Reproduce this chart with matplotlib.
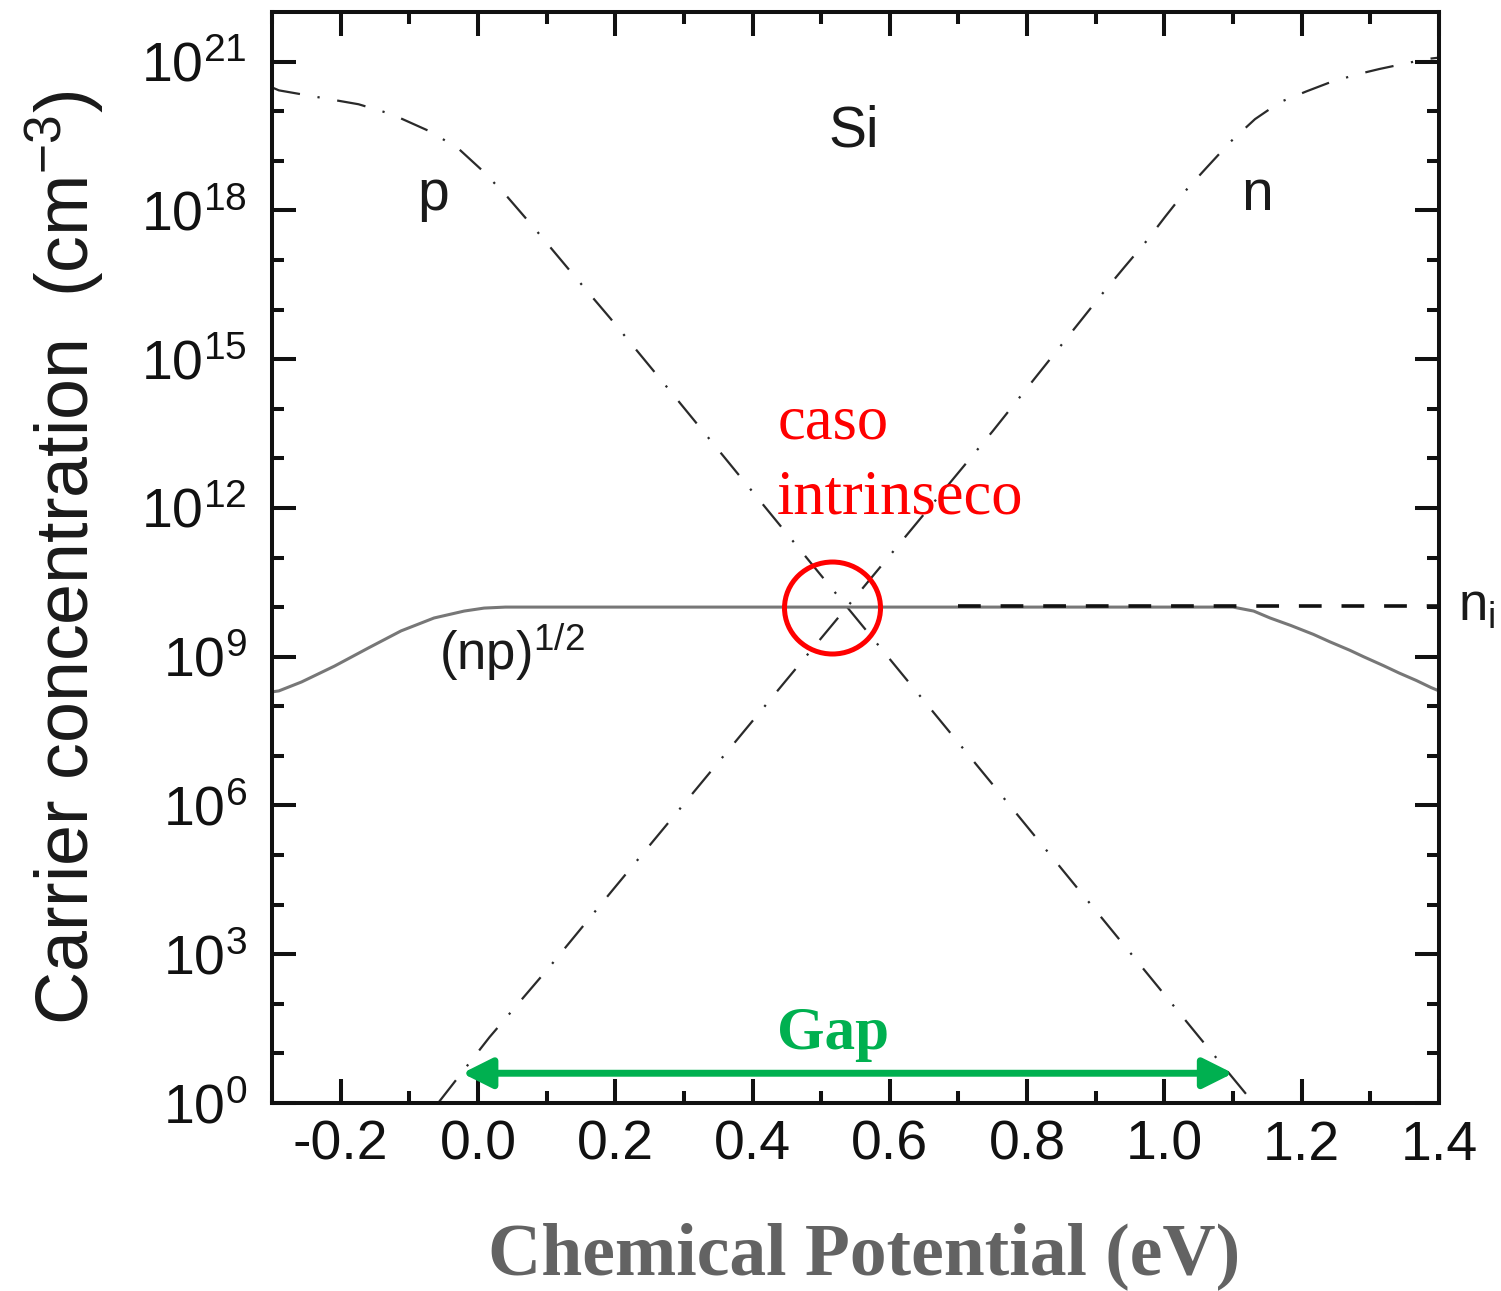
import matplotlib
matplotlib.use("Agg")
import matplotlib.pyplot as plt
from matplotlib.patches import Ellipse
from matplotlib.ticker import FixedLocator, FixedFormatter
import numpy as np

# values (log10 of concentration in cm^-3)
p_mu = [-0.30, -0.290, -0.174, -0.126, -0.068, -0.028, 0.009, 0.043, 0.081,
        0.139, 0.193, 0.284, 0.45, 0.60, 0.75, 0.90, 1.05, 1.125]
p_log = [20.48, 20.42, 20.14, 19.94, 19.58, 19.24, 18.77, 18.27, 17.66,
         16.70, 15.82, 14.29, 11.48, 8.95, 6.42, 3.88, 1.34, 0.08]

n_mu = [-0.058, 0.017, 0.104, 0.196, 0.30, 0.45, 0.60, 0.75, 0.906, 0.942,
        0.975, 1.001, 1.033, 1.062, 1.096, 1.132, 1.168, 1.207, 1.241, 1.280,
        1.313, 1.381, 1.40]
n_log = [0.0, 1.33, 2.74, 4.29, 6.03, 8.54, 11.04, 13.55, 16.26, 16.86,
         17.40, 17.87, 18.43, 18.87, 19.38, 19.84, 20.18, 20.40, 20.58, 20.74,
         20.85, 21.05, 21.08]

np_mu = [-0.30, -0.29, -0.257, -0.209, -0.159, -0.112, -0.064, -0.020, 0.009,
         0.04, 1.10, 1.13, 1.154, 1.184, 1.217, 1.241, 1.270, 1.290, 1.319,
         1.342, 1.367, 1.388, 1.40]
np_log = [8.29, 8.31, 8.49, 8.81, 9.18, 9.52, 9.78, 9.92, 9.98,
          10.0, 10.0, 9.92, 9.78, 9.63, 9.45, 9.30, 9.13, 9.00, 8.82,
          8.67, 8.52, 8.38, 8.31]

ni_mu = [0.70, 1.40]
ni_log = [10.02, 10.02]

gap_mu = [-0.023, 1.10]   # arrow ends
gap_log = 0.6

xticks = [-0.2, 0.0, 0.2, 0.4, 0.6, 0.8, 1.0, 1.2, 1.4]
xticklabels = ["-0.2", "0.0", "0.2", "0.4", "0.6", "0.8", "1.0", "1.2", "1.4"]
ydecades = [0, 3, 6, 9, 12, 15, 18, 21]
yticklabels = [r"$\mathregular{10^{%d}}$" % d for d in ydecades]

plt.rcParams["font.family"] = ["Liberation Sans", "DejaVu Sans"]
plt.rcParams["mathtext.fontset"] = "custom"
plt.rcParams["mathtext.rm"] = "Liberation Sans"
plt.rcParams["mathtext.it"] = "Liberation Sans:italic"
plt.rcParams["mathtext.bf"] = "Liberation Sans:bold"

fig = plt.figure(figsize=(15.01, 12.91), dpi=100)
ax = fig.add_axes([272 / 1501, 1 - 1103 / 1291, 1167 / 1501, 1091 / 1291])

curve = "#2a2a2a"
dashdot = (0, (13, 8, 1.0, 8))
ax.plot(p_mu, 10 ** np.array(p_log), color=curve, lw=1.6, linestyle=dashdot)
ax.plot(n_mu, 10 ** np.array(n_log), color=curve, lw=1.6, linestyle=dashdot)
ax.plot(np_mu, 10 ** np.array(np_log), color="#777777", lw=2.2)
ax.plot(ni_mu, 10 ** np.array(ni_log), color="#111111", lw=2.6,
        linestyle=(0, (6.3, 5.5)))

ax.set_yscale("log")
ax.set_xlim(-0.3, 1.4)
ax.set_ylim(1, 1e22)

ax.xaxis.set_major_locator(FixedLocator(xticks))
ax.xaxis.set_major_formatter(FixedFormatter(xticklabels))
ax.xaxis.set_minor_locator(FixedLocator(np.arange(-0.3, 1.45, 0.2)))
ax.yaxis.set_major_locator(FixedLocator([10.0 ** d for d in ydecades]))
ax.yaxis.set_major_formatter(FixedFormatter(yticklabels))
ax.yaxis.set_minor_locator(FixedLocator([10.0 ** d for d in range(1, 22) if d % 3]))
ax.yaxis.set_minor_formatter(FixedFormatter([]))

for s in ax.spines.values():
    s.set_linewidth(2.9)
    s.set_color("#111111")
ax.tick_params(which="both", direction="in", top=True, right=True,
               width=2.9, color="#111111", labelcolor="#111111", labelsize=40)
ax.tick_params(which="major", length=17)
ax.tick_params(which="minor", length=8.5)
ax.tick_params(axis="x", pad=12)
ax.tick_params(axis="y", pad=18)

ax.set_ylabel("Carrier concentration  (cm$^{-3}$)", fontsize=53, color="#1a1a1a")
ax.yaxis.set_label_coords(-0.142, 0.5)
ax.set_xlabel("Chemical Potential (eV)", fontsize=53, color="#636363",
              family="Liberation Serif", fontweight="bold")
ax.xaxis.set_label_coords(0.507, -0.109)

ax.text(0.548, 10 ** 19.6, "Si", fontsize=41, ha="center", va="center", color="#1a1a1a")
ax.text(-0.065, 10 ** 18.3, "p", fontsize=41, ha="center", va="center", color="#1a1a1a")
ax.text(1.135, 10 ** 18.3, "n", fontsize=41, ha="center", va="center", color="#1a1a1a")
ax.text(0.05, 10 ** 9.1, r"(np)$^{1/2}$", fontsize=38, ha="center", va="center",
        color="#1a1a1a")
ax.text(1.428, 10 ** 10.0, r"n$_{\mathregular{i}}$", fontsize=38, ha="left", va="center",
        color="#1a1a1a", clip_on=False)

ax.text(0.436, 10 ** 13.40, "caso", fontsize=45, color="#ff0000",
        family="Liberation Serif", ha="left", va="baseline")
ax.text(0.436, 10 ** 11.89, "intrinseco", fontsize=45, color="#ff0000",
        family="Liberation Serif", ha="left", va="baseline")
ax.text(0.518, 10 ** 1.08, "Gap", fontsize=44, color="#00b050",
        family="Liberation Serif", fontweight="bold", ha="center", va="baseline")

ax.annotate("", xy=(gap_mu[0], 10 ** gap_log), xytext=(gap_mu[1], 10 ** gap_log),
            arrowprops=dict(arrowstyle="<|-|>,head_length=0.9,head_width=0.45",
                            color="#00b050", lw=5, mutation_scale=20,
                            shrinkA=0, shrinkB=0))

ax.add_patch(Ellipse((0.4803, 0.4537), 96 / 1167, 92 / 1091, transform=ax.transAxes,
                     fill=False, edgecolor="#ff0000", lw=3.6, zorder=5))

fig.savefig("out.png", dpi=100)
